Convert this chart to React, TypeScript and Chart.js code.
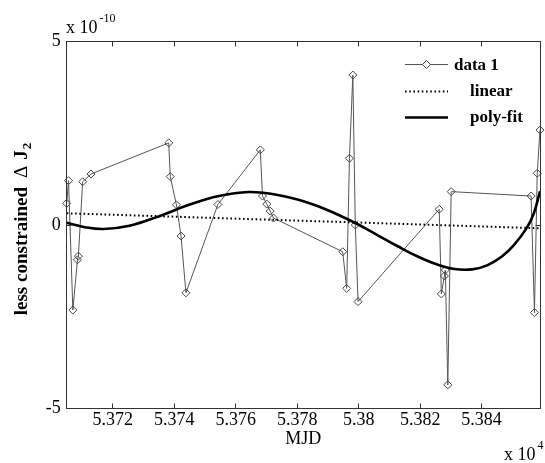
import React, { useEffect, useRef } from "react";
import { Chart, registerables } from "chart.js";

Chart.register(...registerables);

// ---- data (values in units of 1e-10) ----
const dataMJD = [
  53705.0, 53705.6, 53707.0, 53708.5, 53708.8, 53710.2, 53712.9,
  53738.2, 53738.7, 53740.7, 53742.2, 53743.8, 53754.2,
  53768.0, 53768.7, 53770.1, 53771.2, 53772.3,
  53794.8, 53796.1, 53797.0, 53798.1, 53798.9, 53799.8,
  53826.2, 53826.9, 53827.9, 53828.2, 53829.0, 53830.1,
  53856.1, 53857.2, 53858.1, 53859.0,
];
const dataVal = [
  0.59, 1.21, -2.32, -0.95, -0.85, 1.18, 1.39,
  2.24, 1.32, 0.55, -0.3, -1.85, 0.56,
  2.05, 0.79, 0.57, 0.38, 0.19,
  -0.73, -1.73, 1.82, 4.09, 0.0, -2.09,
  0.43, -1.88, -1.39, -1.23, -4.36, 0.91,
  0.79, -2.39, 1.41, 2.59,
];
const linearMJD = [53705.0, 53859.0];
const linearVal = [0.32, -0.09];
const polyMJD = [
  53705.0, 53710.9, 53717.0, 53725.4, 53735.1, 53744.8, 53754.5, 53764.2,
  53772.3, 53780.4, 53786.8, 53793.3, 53799.7, 53806.2, 53812.7, 53819.2,
  53825.6, 53831.1, 53836.9, 53841.8, 53846.6, 53850.5, 53854.7, 53857.0,
  53859.0,
];
const polyVal = [
  0.06, -0.06, -0.11, -0.02, 0.24, 0.55, 0.79, 0.9,
  0.84, 0.69, 0.51, 0.28, 0.02, -0.28, -0.58, -0.86,
  -1.08, -1.2, -1.21, -1.1, -0.86, -0.55, -0.08, 0.32,
  0.92,
];
const xMin = 53705.0;
const xMax = 53859.0;
const yMin = -5;
const yMax = 5;
const xTickValues = [53720, 53740, 53760, 53780, 53800, 53820, 53840];
const xTickLabels = ["5.372", "5.374", "5.376", "5.378", "5.38", "5.382", "5.384"];
const yTickValues = [-5, 0, 5];
const yTickLabels = ["-5", "0", "5"];
const seriesNames = ["data 1", "linear", "poly-fit"];
const xAxisTitle = "MJD";
const yTitleParts = ["less constrained", "\u0394", "J", "2"];
const xExponent = ["x 10", "4"];
const yExponent = ["x 10", "-10"];

const SERIF = "'Liberation Serif', 'Times New Roman', Times, serif";

const decorPlugin = {
  id: "decor",
  afterDatasetsDraw(chart: any) {
    const { ctx, chartArea: a, scales } = chart;
    const xs = scales.x;
    const ys = scales.y;
    ctx.save();

    // frame box
    ctx.strokeStyle = "#333";
    ctx.lineWidth = 1;
    const L = Math.floor(a.left) + 0.5;
    const R = Math.floor(a.right) + 0.5;
    const T = Math.floor(a.top) + 0.5;
    const B = Math.floor(a.bottom) + 0.5;
    ctx.strokeRect(L, T, R - L, B - T);

    // inward ticks
    const tl = 5;
    ctx.beginPath();
    xTickValues.forEach((v) => {
      const px = Math.floor(xs.getPixelForValue(v)) + 0.5;
      ctx.moveTo(px, B);
      ctx.lineTo(px, B - tl);
      ctx.moveTo(px, T);
      ctx.lineTo(px, T + tl);
    });
    yTickValues.forEach((v) => {
      const py = Math.floor(ys.getPixelForValue(v)) + 0.5;
      ctx.moveTo(L, py);
      ctx.lineTo(L + tl, py);
      ctx.moveTo(R, py);
      ctx.lineTo(R - tl, py);
    });
    ctx.stroke();

    // exponent labels
    ctx.fillStyle = "#000";
    ctx.textAlign = "left";
    ctx.textBaseline = "alphabetic";
    ctx.font = `18px ${SERIF}`;
    ctx.fillText(yExponent[0], 66, 33);
    const yw = ctx.measureText(yExponent[0]).width;
    ctx.font = `12px ${SERIF}`;
    ctx.fillText(yExponent[1], 66 + yw + 2, 22);

    ctx.font = `18px ${SERIF}`;
    ctx.fillText(xExponent[0], 504, 460);
    const xw = ctx.measureText(xExponent[0]).width;
    ctx.font = `12px ${SERIF}`;
    ctx.fillText(xExponent[1], 504 + xw + 2, 449);

    // y-axis title (rotated, with subscript)
    ctx.save();
    const boldF = `bold 19px ${SERIF}`;
    const deltaF = `19px ${SERIF}`;
    const subF = `bold 13px ${SERIF}`;
    ctx.font = boldF;
    const w0 = ctx.measureText(yTitleParts[0]).width;
    const w2 = ctx.measureText(yTitleParts[2]).width;
    ctx.font = deltaF;
    const w1 = ctx.measureText(yTitleParts[1]).width;
    ctx.font = subF;
    const w3 = ctx.measureText(yTitleParts[3]).width;
    const g1 = 9, g2 = 6, g3 = 1;
    const total = w0 + g1 + w1 + g2 + w2 + g3 + w3;
    const cy = (ys.getPixelForValue(yMin) + ys.getPixelForValue(yMax)) / 2 + 4;
    ctx.translate(27, cy);
    ctx.rotate(-Math.PI / 2);
    let cx = -total / 2;
    ctx.font = boldF;
    ctx.fillText(yTitleParts[0], cx, 0);
    cx += w0 + g1;
    ctx.font = deltaF;
    ctx.fillText(yTitleParts[1], cx, 0);
    cx += w1 + g2;
    ctx.font = boldF;
    ctx.fillText(yTitleParts[2], cx, 0);
    cx += w2 + g3;
    ctx.font = subF;
    ctx.fillText(yTitleParts[3], cx, 4);
    ctx.restore();

    // legend
    const ds = chart.data.datasets;
    const rows = [
      { ly: 64, tx: 454, by: 70 },
      { ly: 91, tx: 470, by: 96 },
      { ly: 117, tx: 470, by: 122 },
    ];
    const lx0 = 405, lx1 = 448;
    rows.forEach((r, i) => {
      const d = ds[i];
      ctx.save();
      ctx.strokeStyle = d.borderColor;
      ctx.lineWidth = d.borderWidth;
      ctx.setLineDash(d.borderDash || []);
      ctx.beginPath();
      ctx.moveTo(lx0, r.ly + 0.5);
      ctx.lineTo(lx1, r.ly + 0.5);
      ctx.stroke();
      ctx.setLineDash([]);
      if (d.pointRadius > 0) {
        const mx = (lx0 + lx1) / 2;
        const rr = d.pointRadius;
        ctx.strokeStyle = d.pointBorderColor;
        ctx.fillStyle = "#fff";
        ctx.lineWidth = d.pointBorderWidth;
        ctx.beginPath();
        ctx.moveTo(mx - rr, r.ly + 0.5);
        ctx.lineTo(mx, r.ly + 0.5 - rr);
        ctx.lineTo(mx + rr, r.ly + 0.5);
        ctx.lineTo(mx, r.ly + 0.5 + rr);
        ctx.closePath();
        ctx.fill();
        ctx.stroke();
      }
      ctx.restore();
      ctx.fillStyle = "#000";
      ctx.font = `bold 17px ${SERIF}`;
      ctx.textBaseline = "alphabetic";
      ctx.fillText(seriesNames[i], r.tx, r.by);
    });

    ctx.restore();
  },
};

export default function App() {
  const ref = useRef<HTMLCanvasElement | null>(null);

  useEffect(() => {
    if (!ref.current) return;
    const chart = new Chart(ref.current, {
      type: "line",
      data: {
        datasets: [
          {
            label: seriesNames[0],
            data: dataMJD.map((x, i) => ({ x, y: dataVal[i] })),
            borderColor: "#555",
            borderWidth: 1,
            pointStyle: "rectRot",
            pointRadius: 4,
            pointBorderColor: "#444",
            pointBackgroundColor: "rgba(255,255,255,0)",
            pointBorderWidth: 1,
            tension: 0,
            clip: false,
            order: 3,
          } as any,
          {
            label: seriesNames[1],
            data: linearMJD.map((x, i) => ({ x, y: linearVal[i] })),
            borderColor: "#000",
            borderWidth: 2,
            borderDash: [1.6, 2.6],
            pointRadius: 0,
            tension: 0,
            order: 2,
          },
          {
            label: seriesNames[2],
            data: polyMJD.map((x, i) => ({ x, y: polyVal[i] })),
            borderColor: "#000",
            borderWidth: 2.6,
            pointRadius: 0,
            tension: 0.4,
            order: 1,
          },
        ],
      },
      options: {
        animation: false,
        responsive: true,
        maintainAspectRatio: false,
        layout: { padding: { top: 41.7, right: 1.6, left: 0, bottom: 0 } },
        plugins: {
          legend: { display: false },
          tooltip: { enabled: false },
          title: { display: false },
        },
        scales: {
          x: {
            type: "linear",
            min: xMin,
            max: xMax,
            grid: { display: false, drawTicks: false },
            border: { display: false },
            afterBuildTicks: (s: any) => {
              s.ticks = xTickValues.map((v) => ({ value: v }));
            },
            afterFit: (s: any) => {
              s.height = 54.7;
            },
            ticks: {
              autoSkip: false,
              maxRotation: 0,
              minRotation: 0,
              padding: 1,
              color: "#000",
              font: { family: SERIF, size: 18 },
              callback: (_v: any, i: number) => xTickLabels[i],
            },
            title: {
              display: true,
              text: xAxisTitle,
              color: "#000",
              font: { family: SERIF, size: 18 },
              padding: { top: 0, bottom: 13 },
            },
          },
          y: {
            type: "linear",
            min: yMin,
            max: yMax,
            grid: { display: false, drawTicks: false },
            border: { display: false },
            afterBuildTicks: (s: any) => {
              s.ticks = yTickValues.map((v) => ({ value: v }));
            },
            afterFit: (s: any) => {
              s.width = 66.7;
            },
            ticks: {
              padding: 6,
              color: "#000",
              font: { family: SERIF, size: 18 },
              callback: (_v: any, i: number) => yTickLabels[i],
            },
            title: { display: false },
          },
        },
      },
      plugins: [decorPlugin],
    });
    return () => chart.destroy();
  }, []);

  return (
    <div
      style={{
        position: "fixed",
        left: 0,
        top: 0,
        width: 545,
        height: 463,
        background: "#fff",
      }}
    >
      <canvas ref={ref} style={{ display: "block" }} />
    </div>
  );
}
